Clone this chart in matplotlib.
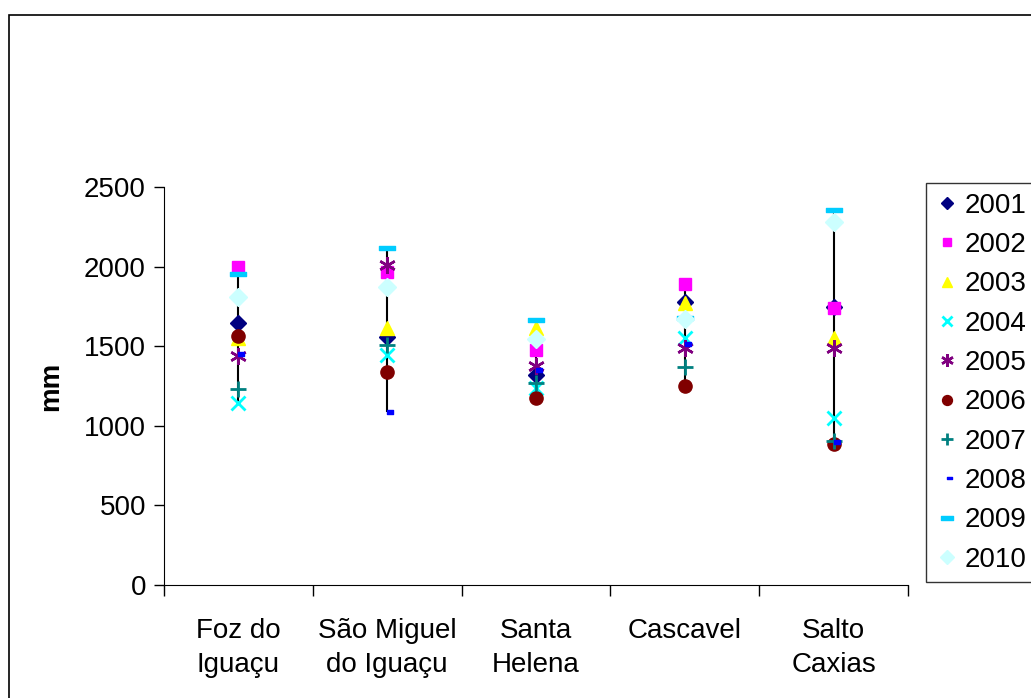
import matplotlib
matplotlib.use("Agg")
from matplotlib import pyplot as plt
from matplotlib.path import Path
from matplotlib.patches import Rectangle

plt.rcParams['font.family'] = ['Liberation Sans', 'DejaVu Sans']

stations = ["Foz do\nIguaçu", "São Miguel\ndo Iguaçu", "Santa\nHelena", "Cascavel", "Salto\nCaxias"]
years = ["2001", "2002", "2003", "2004", "2005", "2006", "2007", "2008", "2009", "2010"]

# annual rainfall (mm) per station, one list per year
y2001 = [1643, 1559, 1319, 1779, 1748]
y2002 = [1995, 1968, 1476, 1890, 1742]
y2003 = [1549, 1612, 1612, 1770, 1549]
y2004 = [1141, 1444, 1240, 1549, 1051]
y2005 = [1438, 2010, 1375, 1486, 1486]
y2006 = [1564, 1338, 1172, 1252, 885]
y2007 = [1229, 1507, 1270, 1371, 906]
y2008 = [1451, 1084, 1350, 1513, 896]
y2009 = [1951, 2114, 1664, 1680, 2355]
y2010 = [1807, 1869, 1543, 1668, 2282]
series = [y2001, y2002, y2003, y2004, y2005, y2006, y2007, y2008, y2009, y2010]

# short dash drawn to the right of the point, long dash centred
short_dash = Path([(0, -0.3), (1, -0.3), (1, 0.3), (0, 0.3), (0, -0.3)],
                  [Path.MOVETO, Path.LINETO, Path.LINETO, Path.LINETO, Path.CLOSEPOLY])
long_dash = Path([(-1, -0.28), (1, -0.28), (1, 0.28), (-1, 0.28), (-1, -0.28)],
                 [Path.MOVETO, Path.LINETO, Path.LINETO, Path.LINETO, Path.CLOSEPOLY])

styles = [
    dict(marker="D", color="#000080", ms=8),
    dict(marker="s", color="#FF00FF", ms=8.5),
    dict(marker="^", color="#FFFF00", ms=10.5),
    dict(marker="x", color="#00FFFF", ms=10, mew=2),
    dict(marker=(6, 2, 0), color="#800080", ms=12, mew=1.8),
    dict(marker="o", color="#800000", ms=9.5),
    dict(marker="+", color="#008080", ms=11, mew=2),
    dict(marker=short_dash, color="#0000FF", ms=9),
    dict(marker=long_dash, color="#00CCFF", ms=11),
    dict(marker="D", color="#CCFFFF", ms=9),
]

fig = plt.figure(figsize=(10.31, 6.98), dpi=100)
ax = fig.add_axes([164 / 1031, 1 - 585 / 698, 744 / 1031, 398 / 698])

x = list(range(len(stations)))
lows = [min(v[i] for v in series) for i in x]
highs = [max(v[i] for v in series) for i in x]
ax.vlines(x, lows, highs, color="black", lw=1.5, zorder=1)

for yr, vals, st in zip(years, series, styles):
    ax.plot(x, vals, linestyle="none", marker=st["marker"], ms=st["ms"],
            mew=st.get("mew", 1), color=st["color"], mec=st["color"],
            label=yr, zorder=2)

ax.set_xlim(-0.5, len(stations) - 0.5)
ax.set_ylim(0, 2500)
ax.set_yticks([0, 500, 1000, 1500, 2000, 2500])
ax.set_xticks([i - 0.5 for i in range(len(stations) + 1)])
ax.set_xticklabels([])
ax.set_xticks(x, minor=True)
ax.set_xticklabels(stations, minor=True, fontsize=20, linespacing=1.4)
ax.tick_params(axis="x", which="minor", length=0, pad=24)
ax.tick_params(axis="x", which="major", direction="out", length=8, width=1)
ax.tick_params(axis="y", direction="out", length=7, width=1, labelsize=20, pad=6)
ax.spines["top"].set_visible(False)
ax.spines["right"].set_visible(False)
ax.set_ylabel("mm", fontsize=20, fontweight="bold", labelpad=14)

leg = fig.legend(loc="upper left", bbox_to_anchor=(926 / 1031, 1 - 183 / 698),
                 frameon=True, fancybox=False, edgecolor="black", fontsize=20,
                 handlelength=0.8, handletextpad=0.25, labelspacing=0.48,
                 borderpad=0.35, borderaxespad=0, markerscale=0.75)
leg.get_frame().set_linewidth(1)

fig.patches.append(Rectangle((9 / 1031, -0.1), 1.2, 1.1 - 15 / 698,
                             transform=fig.transFigure, fill=False,
                             edgecolor="black", lw=1.2))

fig.savefig("out.png", dpi=100)
